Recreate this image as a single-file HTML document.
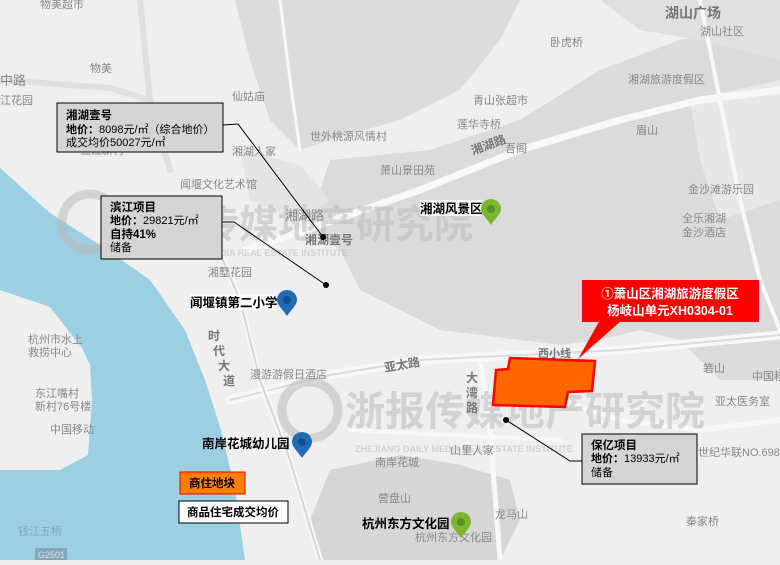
<!DOCTYPE html>
<html><head><meta charset="utf-8">
<style>
html,body{margin:0;padding:0;}
body{width:780px;height:560px;overflow:hidden;background:#efefef;font-family:"Liberation Sans","Noto Sans CJK SC",sans-serif;}
svg text{font-family:"Liberation Sans","Noto Sans CJK SC",sans-serif;}
</style></head><body>
<svg width="780" height="560" viewBox="0 0 780 560" xmlns="http://www.w3.org/2000/svg">
<rect width="780" height="560" fill="#efefef"/>
<path d="M235 0 L520 0 L500 40 L460 90 L400 120 L330 140 L300 150 L270 120 L250 60 Z" fill="#dcdcdc"/>
<path d="M330 160 L430 150 L520 120 L600 70 L680 40 L740 30 L780 60 L780 380 L720 380 L680 340 L640 330 L600 340 L560 345 L520 340 L440 330 L400 310 L360 290 L340 250 L310 230 L320 190 Z" fill="#dbdbdb"/>
<path d="M600 0 L780 0 L780 60 L700 40 L640 30 Z" fill="#e0e0e0"/>
<path d="M330 470 L400 455 L460 465 L510 480 L520 520 L500 560 L320 560 L310 520 Z" fill="#d6d6d6"/>
<path d="M240 150 L300 165 L330 200 L300 220 L250 200 Z" fill="#e4e4e4"/>
<path d="M690 100 L780 80 L780 200 L720 220 L700 160 Z" fill="#e8e8e8"/>
<path d="M0 168 L50 213 L100 245 L150 280 L185 330 L205 380 L222 433 L235 490 L245 560 L0 560 L0 470 L60 470 L88 455 L92 400 L90 365 L82 348 L50 307 L0 290 Z" fill="#9dcfe3"/>
<g fill="none" stroke="#f8f8f8" stroke-linecap="round">
<path d="M230 400 L330 375 L420 360 L520 355 L620 350 L780 335" stroke-width="9"/>
<path d="M230 400 L330 375 L420 360 L520 355 L620 350 L780 335" stroke="#dcdcdc" stroke-width="2"/>
<path d="M245 250 L320 225 L420 190 L520 150 L620 120 L700 100 L780 90" stroke-width="7"/>
<path d="M210 230 L240 300 L260 380 L290 460 L320 560" stroke-width="6"/>
<path d="M210 230 L240 300 L260 380 L290 460 L320 560" stroke="#d6d6d6" stroke-width="2"/>
<path d="M140 0 L150 100 L170 170" stroke-width="6" stroke="#e0e0e0"/>
<path d="M0 80 L110 88 L150 100" stroke-width="6" stroke="#e0e0e0"/>
<path d="M480 360 L490 430 L500 560" stroke-width="5"/>
<path d="M700 0 L720 100 L740 200 L760 280 L780 330" stroke-width="4"/>
<path d="M560 400 L620 420 L700 430 L780 420" stroke-width="5"/>
<path d="M350 430 L450 435 L560 440" stroke-width="4"/>
<path d="M280 0 L290 80 L300 150" stroke-width="3"/>
</g>
<g fill="#bbbbbb" opacity="0.55" font-weight="bold">
<circle cx="90" cy="222" r="28" fill="none" stroke="#bbb" stroke-width="9"/>
<text x="122" y="238" font-size="39">浙报传媒地产研究院</text>
<text x="130" y="256" font-size="9">ZHEJIANG DAILY MEDIA REAL ESTATE INSTITUTE</text>
<circle cx="310" cy="410" r="28" fill="none" stroke="#bbb" stroke-width="9"/>
<text x="345" y="425" font-size="40">浙报传媒地产研究院</text>
<text x="355" y="452" font-size="9">ZHEJIANG DAILY MEDIA REAL ESTATE INSTITUTE</text>
</g>
<g fill="#888" font-size="11">
<text x="40" y="8">物美超市</text><text x="90" y="72">物美</text>
<text x="0" y="85" font-size="13">中路</text><text x="0" y="104">江花园</text>
<text x="106" y="112">闻堰镇小学</text><text x="232" y="100">仙姑庙</text>
<text x="80" y="154">三江新村</text><text x="180" y="188">闻堰文化艺术馆</text>
<text x="185" y="214">闻堰镇</text><text x="188" y="235">三汪桥</text>
<text x="208" y="276">湘墅花园</text>
<text x="28" y="343">杭州市水上</text><text x="28" y="356">救捞中心</text>
<text x="35" y="397">东江嘴村</text><text x="35" y="410">新村76号楼</text>
<text x="50" y="433">中国移动</text>
<text x="250" y="378">漫游游假日酒店</text>
<text x="375" y="466">南岸花城</text><text x="378" y="502">营盘山</text>
<text x="495" y="518">龙马山</text><text x="415" y="541">杭州东方文化园</text>
<text x="450" y="454">山里人家</text>
<text x="310" y="140">世外桃源风情村</text><text x="232" y="155">湘湖人家</text>
<text x="380" y="174">萧山景田苑</text><text x="473" y="104">青山张超市</text>
<text x="457" y="128">莲华寺桥</text><text x="505" y="152">吾阁</text>
<text x="550" y="46">卧虎桥</text><text x="628" y="83">湘湖旅游度假区</text>
<text x="636" y="134">眉山</text><text x="688" y="193">金沙滩游乐园</text>
<text x="682" y="222">全乐湘湖</text><text x="682" y="236">金沙酒店</text>
<text x="700" y="35">湖山社区</text><text x="703" y="372">箬山</text>
<text x="752" y="380">中国移</text><text x="715" y="405">亚太医务室</text>
<text x="698" y="456">世纪华联NO.698</text><text x="686" y="525">秦家桥</text>
<text x="18" y="535" fill="#7fa8bb">钱江五桥</text>
<text x="285" y="220" font-size="13">湘湖路</text>
</g>
<g fill="#777" font-weight="bold">
<text x="665" y="18" font-size="14">湖山广场</text>
<text x="305" y="244" font-size="12">湘湖壹号</text>
<text x="385" y="372" font-size="12" transform="rotate(-10 385 372)">亚太路</text>
<text x="473" y="155" font-size="12" transform="rotate(-20 473 155)">湘湖路</text>
<text x="538" y="357" font-size="11">西小线</text>
<text x="466" y="382" font-size="12">大</text><text x="466" y="397" font-size="12">湾</text><text x="466" y="412" font-size="12">路</text>
<text x="208" y="340" font-size="12">时</text><text x="213" y="355" font-size="12">代</text><text x="218" y="370" font-size="12">大</text><text x="223" y="385" font-size="12">道</text>
</g>
<rect x="35" y="548" width="32" height="12" fill="#7fa8bb"/><text x="38" y="558" font-size="9" fill="#dde">G2501</text>
<path d="M510 358 L595 361 L592 391 L568 392 L565 407 L493 405 L496 370 L508 369 Z" fill="#ff6600" stroke="#ff0000" stroke-width="2.5"/>
<path d="M600 320 L622 320 L578 359 Z" fill="#ff0000"/>
<rect x="582" y="280" width="177" height="42" fill="#ff0000"/>
<text x="670" y="298" font-size="12.5" font-weight="bold" fill="#fff" text-anchor="middle">①萧山区湘湖旅游度假区</text>
<text x="670" y="315" font-size="12.5" font-weight="bold" fill="#fff" text-anchor="middle">杨岐山单元XH0304-01</text>
<g stroke="#000" stroke-width="1" fill="none">
<path d="M223 125 L238 124 L323 237"/>
<path d="M222 222 L234 222 L326 285"/>
<path d="M582 461 L570 461 L506 420"/>
</g>
<circle cx="323" cy="237" r="3" fill="#000"/>
<circle cx="326" cy="285" r="3" fill="#000"/>
<circle cx="506" cy="420" r="3" fill="#000"/>
<rect x="57" y="103" width="166" height="49" fill="#d4d4d4" stroke="#000"/>
<text x="66" y="119" font-size="11.5" font-weight="bold">湘湖壹号</text>
<text x="66" y="133" font-size="11"><tspan font-weight="bold">地价：</tspan>8098元/㎡（综合地价）</text>
<text x="66" y="146" font-size="11">成交均价50027元/㎡</text>
<rect x="101" y="196" width="121" height="63" fill="#d4d4d4" stroke="#000"/>
<text x="110" y="211" font-size="11.5" font-weight="bold">滨江项目</text>
<text x="110" y="224" font-size="11"><tspan font-weight="bold">地价：</tspan>29821元/㎡</text>
<text x="110" y="238" font-size="11.5" font-weight="bold">自持41%</text>
<text x="110" y="251" font-size="11">储备</text>
<rect x="582" y="434" width="115" height="50" fill="#d4d4d4" stroke="#000"/>
<text x="591" y="449" font-size="11.5" font-weight="bold">保亿项目</text>
<text x="591" y="462" font-size="11"><tspan font-weight="bold">地价：</tspan>13933元/㎡</text>
<text x="591" y="476" font-size="11">储备</text>
<rect x="180" y="472" width="65" height="22" fill="#ff8000" stroke="#e00" stroke-width="1"/>
<text x="212" y="487" font-size="11.5" font-weight="bold" text-anchor="middle">商住地块</text>
<rect x="179" y="501" width="109" height="22" fill="#fff" stroke="#000"/>
<text x="233" y="516" font-size="11.5" font-weight="bold" text-anchor="middle">商品住宅成交均价</text>
<g font-size="12.5" font-weight="bold">
<rect x="190" y="294" width="84" height="16" fill="#fff" opacity="0.8"/>
<text x="190" y="307">闻堰镇第二小学</text>
<text x="202" y="448">南岸花城幼儿园</text>
<rect x="420" y="200" width="62" height="16" fill="#fff" opacity="0.8"/>
<text x="420" y="213">湘湖风景区</text>
<text x="362" y="528">杭州东方文化园</text>
</g>
<g>
<path d="M287 316 C283 310 277 305 277 300 A10 10 0 0 1 297 300 C297 305 291 310 287 316 Z" fill="#1f6bb8"/><circle cx="287" cy="300" r="4" fill="#154f8a"/>
<path d="M302 458 C298 452 292 447 292 442 A10 10 0 0 1 312 442 C312 447 306 452 302 458 Z" fill="#1f6bb8"/><circle cx="302" cy="442" r="4" fill="#154f8a"/>
<path d="M491 225 C487 219 481 214 481 209 A10 10 0 0 1 501 209 C501 214 495 219 491 225 Z" fill="#7ab730"/><circle cx="491" cy="209" r="4" fill="#5a8f22"/>
<path d="M461 538 C457 532 451 527 451 522 A10 10 0 0 1 471 522 C471 527 465 532 461 538 Z" fill="#7ab730"/><circle cx="461" cy="522" r="4" fill="#5a8f22"/>
</g>
</svg>
</body></html>
